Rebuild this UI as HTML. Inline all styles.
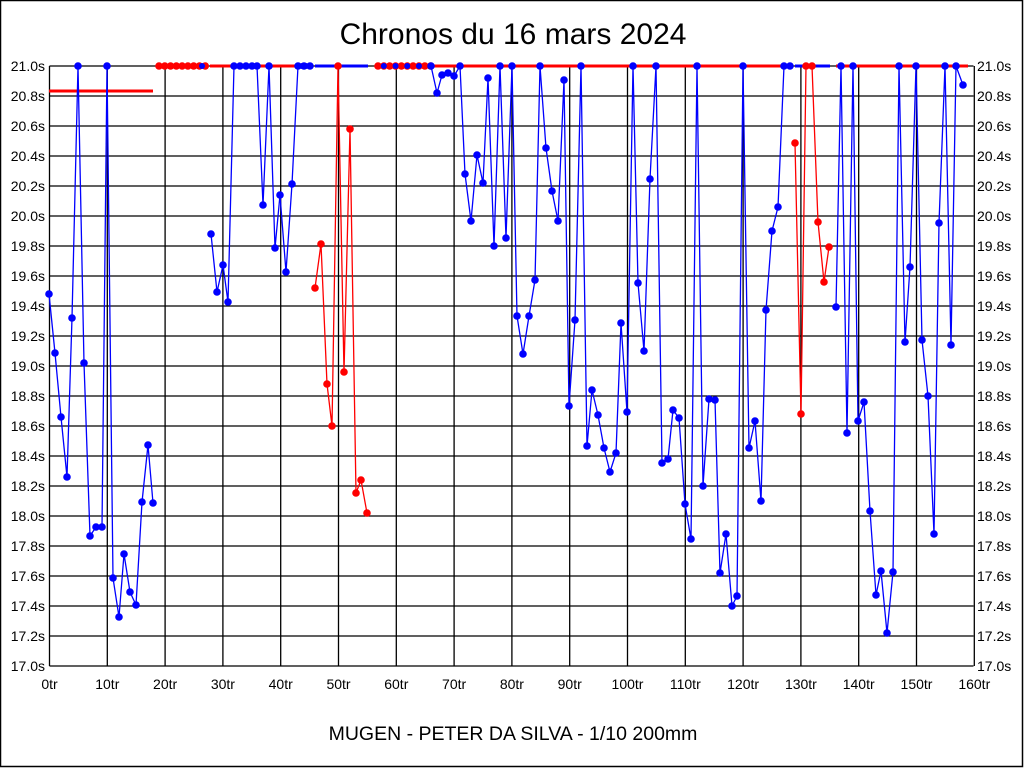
<!DOCTYPE html>
<html><head><meta charset="utf-8"><style>
html,body{margin:0;padding:0;background:#fff}
svg{display:block}
text{font-family:"Liberation Sans",sans-serif;fill:#000}
</style></head><body>
<svg width="1024" height="768" viewBox="0 0 1024 768" xmlns="http://www.w3.org/2000/svg">
<rect x="0.5" y="0.5" width="1022" height="766" fill="#fff" stroke="#000" stroke-width="1.5"/>
<text x="513" y="44" font-size="30" text-anchor="middle">Chronos du 16 mars 2024</text>
<text x="513" y="740" font-size="19.5" text-anchor="middle">MUGEN - PETER DA SILVA - 1/10 200mm</text>
<g id="grid" stroke="#000" stroke-width="1.3"></g>
<g id="labels" font-size="14"></g>
<g id="data"></g>
<script>
var ns="http://www.w3.org/2000/svg";
function el(p,t,a,txt){var e=document.createElementNS(ns,t);for(var k in a)e.setAttribute(k,a[k]);if(txt!==undefined)e.textContent=txt;p.appendChild(e);return e;}
var g=document.getElementById('grid'),L=document.getElementById('labels'),D=document.getElementById('data');
var X0=49.5,SX=5.78,Y0=66,Y1=666;
for(var k=0;k<=20;k++){var y=Y0+30*k;el(g,'line',{x1:X0,x2:973.5,y1:y,y2:y});
 var v=(21-0.2*k).toFixed(1)+'s';el(L,'text',{x:45,y:y+5,'text-anchor':'end'},v);el(L,'text',{x:977,y:y+5},v);}
for(var k=0;k<=16;k++){var x=X0+57.8*k;el(g,'line',{x1:x,x2:x,y1:Y0,y2:Y1});
 el(L,'text',{x:x,y:689,'text-anchor':'middle'},(k*10)+'tr');}
function line(pts,c,w){el(D,'polyline',{points:pts.map(function(p){return p.join(',')}).join(' '),fill:'none',stroke:c,'stroke-width':w||1.3});}
function dots(pts,c,r){pts.forEach(function(p){el(D,'circle',{cx:p[0],cy:p[1],r:r||3.8,fill:c});});}
line([[210,66],[298,66]],'#f00',3);
line([[431,66],[792,66]],'#f00',3);
line([[836,66],[968,66]],'#f00',3);
line([[315,66],[368,66]],'#00f',3);
line([[795,66],[830,66]],'#00f',3);
line([[49,91],[153,91]],'#f00',3);
var topRed=[];for(var i=0;i<9;i++)topRed.push([159+5.78*i,66]);
dots(topRed,'#f00');
var mid=[];for(var i=0;i<10;i++)mid.push([378+5.85*i,66]);
dots(mid,'#f00');dots(mid.filter(function(p,i){return i%2==1}),'#00f',3);
dots([[202,66],[306,66],[302,66]],'#00f',3);
var b1=[[49,294],[55,353],[61,417],[67,477],[72,318],[78,66],[84,363],[90,536],[96,527],[102,527],[107,66],[113,578],[119,617],[124,554],[130,592],[136,605],[142,502],[148,445],[153,503]];
var b2=[[211,234],[217,292],[223,265],[228,302],[234,66],[240,66],[246,66],[252,66],[257,66],[263,205],[269,66],[275,248],[280,195],[286,272],[292,184],[298,66],[304,66],[310,66]];
var b3=[[431,66],[437,93],[442,75],[448,73],[454,76],[460,66],[465,174],[471,221],[477,155],[483,183],[488,78],[494,246],[500,66],[506,238],[512,66],[517,316],[523,354],[529,316],[535,280],[540,66],[546,148],[552,191],[558,221],[564,80],[569,406],[575,320],[581,66],[587,446],[592,390],[598,415],[604,448],[610,472],[616,453],[621,323],[627,412],[633,66],[638,283],[644,351],[650,179],[656,66],[662,463],[668,459],[673,410],[679,418],[685,504],[691,539],[697,66],[703,486],[709,399],[715,400],[720,573],[726,534],[732,606],[737,596],[743,66],[749,448],[755,421],[761,501],[766,310],[772,231],[778,207],[784,66],[790,66]];
var b4=[[836,307],[841,66],[847,433],[853,66],[858,421],[864,402],[870,511],[876,595],[881,571],[887,633],[893,572],[899,66],[905,342],[910,267],[916,66],[922,340],[928,396],[934,534],[939,223],[945,66],[951,345],[956,66],[963,85]];
[b1,b2,b3,b4].forEach(function(s){line(s,'#00f');dots(s,'#00f');});
var r1=[[315,288],[321,244],[327,384],[332,426],[338,66],[344,372],[350,129],[356,493],[361,480],[367,513]];
var r2=[[795,143],[801,414],[806,66],[812,66],[818,222],[824,282],[829,247]];
[r1,r2].forEach(function(s){line(s,'#f00');dots(s,'#f00');});
</script>
</svg>
</body></html>
